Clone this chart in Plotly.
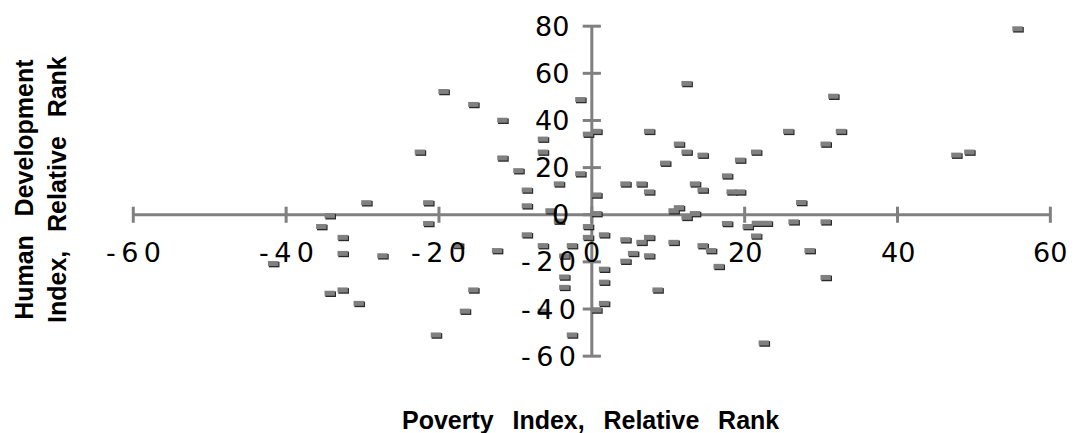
import plotly.graph_objects as go

# ---------------- data ----------------
poverty_rank = [
    -19.4, -22.5, -29.5, -21.4, -34.3, -35.4, -21.4, -32.6, -32.6, -27.4,
    -41.7, -34.3, -32.6, -30.5, -20.4, -12.4, -15.5, -16.6, -17.5, -15.5,
    -11.7, -11.7, -9.6, -8.5, -8.5, -6.4, -6.4, -4.3, -1.5, -0.5,
    0.6, -1.5, 0.6, 0.6, -5.4, -4.3, 4.4, 6.5, 7.5, 7.5,
    9.6, 11.4, 12.4, 12.4, 14.5, 13.5, 14.5, 17.7, 18.3, 19.4,
    19.4, 21.5, 10.7, 11.4, 12.4, 13.5, 55.7, 31.6, 25.7, 32.6,
    30.6, 27.4, 47.7, 49.4, 20.4, 21.6, 22.9, 21.5, 26.4, 30.6,
    28.5, 30.6, 22.5, -0.5, -0.5, 1.6, -8.5, -6.4, -2.6, -3.6,
    4.4, 6.5, 7.5, 5.4, 7.5, 4.4, 10.7, 14.5, 15.6, 16.6,
    17.7, 1.6, -3.6, 1.6, -3.6, 8.6, -6.4, 1.6, 0.6, -2.6,
]
hdi_rank = [
    52.3, 26.6, 5.1, 5.1, -0.4, -5.0, -3.7, -9.6, -16.4, -17.4,
    -20.7, -33.3, -31.9, -37.6, -51.0, -15.2, -31.9, -40.9, -13.0, 46.8,
    40.1, 24.1, 18.7, 10.5, 3.8, 32.1, 26.6, 13.1, 48.9, 34.2,
    35.4, 17.4, 8.4, 0.5, 1.7, -2.7, 13.1, 13.1, 9.7, 35.4,
    21.9, 30.0, 55.7, 26.6, 25.3, 13.1, 10.5, 16.5, 9.7, 9.7,
    23.2, 26.6, 1.7, 3.0, -1.1, 0.5, 78.9, 50.3, 35.4, 35.4,
    30.0, 5.2, 25.3, 26.6, -5.0, -3.6, -3.6, -9.0, -3.0, -3.0,
    -15.2, -26.6, -54.4, -5.0, -9.6, -8.5, -8.5, -13.1, -13.1, -17.5,
    -10.6, -11.7, -9.6, -16.4, -17.4, -19.7, -11.7, -13.1, -15.2, -21.9,
    -3.7, -23.1, -26.4, -28.6, -30.8, -31.9, -40.9, -37.6, -40.4, -51.0,
]
x_ticks = [-60, -40, -20, 0, 20, 40, 60]
y_ticks = [-60, -40, -20, 0, 20, 40, 60, 80]
x_title = "Poverty\u2002\u2005Index,\u2002\u2005Relative\u2002\u2005Rank"
y_title = ("Human\u2002\u2005Development<br>"
           "Index,\u2002\u2005Relative\u2002\u2005Rank")

# ---------------- styling ----------------
W, H = 1081, 433
X_RANGE = [-77.44, 64.01]
Y_RANGE = [-92.6, 91.11]
PX_X = W / (X_RANGE[1] - X_RANGE[0])
PX_Y = H / (Y_RANGE[1] - Y_RANGE[0])
GREY = "#808080"
DARK = "#2a2a2a"
TICK_FONT = dict(family="DejaVu Sans", size=27, color="black")
TITLE_FONT = dict(family="Liberation Sans", size=25, color="black", weight="bold")


def label(v):
    s = str(v)
    return "\u2009".join(s) if v < 0 else s


fig = go.Figure()

# axis lines crossing at the origin
fig.add_trace(go.Scatter(x=[x_ticks[0], x_ticks[-1]], y=[0, 0], mode="lines",
                         line=dict(color=GREY, width=3.2), hoverinfo="skip"))
fig.add_trace(go.Scatter(x=[0, 0], y=[y_ticks[0], y_ticks[-1]], mode="lines",
                         line=dict(color=GREY, width=3), hoverinfo="skip"))
# tick marks crossing the axes
fig.add_trace(go.Scatter(x=x_ticks, y=[0] * len(x_ticks), mode="markers",
                         marker=dict(symbol="line-ns", size=11.5,
                                     line=dict(color=GREY, width=3)),
                         hoverinfo="skip"))
fig.add_trace(go.Scatter(x=[0] * len(y_ticks), y=y_ticks, mode="markers",
                         marker=dict(symbol="line-ew", size=13,
                                     line=dict(color=GREY, width=3)),
                         hoverinfo="skip"))

# data markers: dark shadow then grey bar
dx, dy = 1.0 / PX_X, 1.0 / PX_Y
fig.add_trace(go.Scatter(x=[v + dx for v in poverty_rank],
                         y=[v - dy for v in hdi_rank], mode="markers",
                         marker=dict(symbol="line-ew", size=7.6,
                                     line=dict(color=DARK, width=5.6)),
                         hoverinfo="skip"))
fig.add_trace(go.Scatter(x=poverty_rank, y=hdi_rank, mode="markers",
                         marker=dict(symbol="line-ew", size=7.4,
                                     line=dict(color=GREY, width=5)),
                         hoverinfo="skip"))

annotations = []
for v in x_ticks:
    annotations.append(dict(x=v, y=0, xref="x", yref="y", text=label(v),
                            showarrow=False, font=TICK_FONT,
                            xanchor="center", yanchor="middle", yshift=-38))
for v in y_ticks:
    annotations.append(dict(x=0, y=v, xref="x", yref="y", text=label(v),
                            showarrow=False, font=TICK_FONT,
                            xanchor="right", yanchor="middle",
                            xshift=-14 if v < 0 else -21))
annotations.append(dict(x=590.8 / W, y=1 - 420 / H, xref="paper", yref="paper",
                        text=x_title, showarrow=False, font=TITLE_FONT,
                        xanchor="center", yanchor="middle"))
annotations.append(dict(x=40 / W, y=1 - 190 / H, xref="paper", yref="paper",
                        text=y_title, showarrow=False, font=TITLE_FONT,
                        textangle=-90, xanchor="center", yanchor="middle"))

fig.update_layout(
    width=W, height=H,
    margin=dict(l=0, r=0, t=0, b=0),
    paper_bgcolor="white", plot_bgcolor="white",
    showlegend=False,
    xaxis=dict(range=X_RANGE, visible=False, fixedrange=True),
    yaxis=dict(range=Y_RANGE, visible=False, fixedrange=True),
    annotations=annotations,
)

fig.write_html("out.html")
